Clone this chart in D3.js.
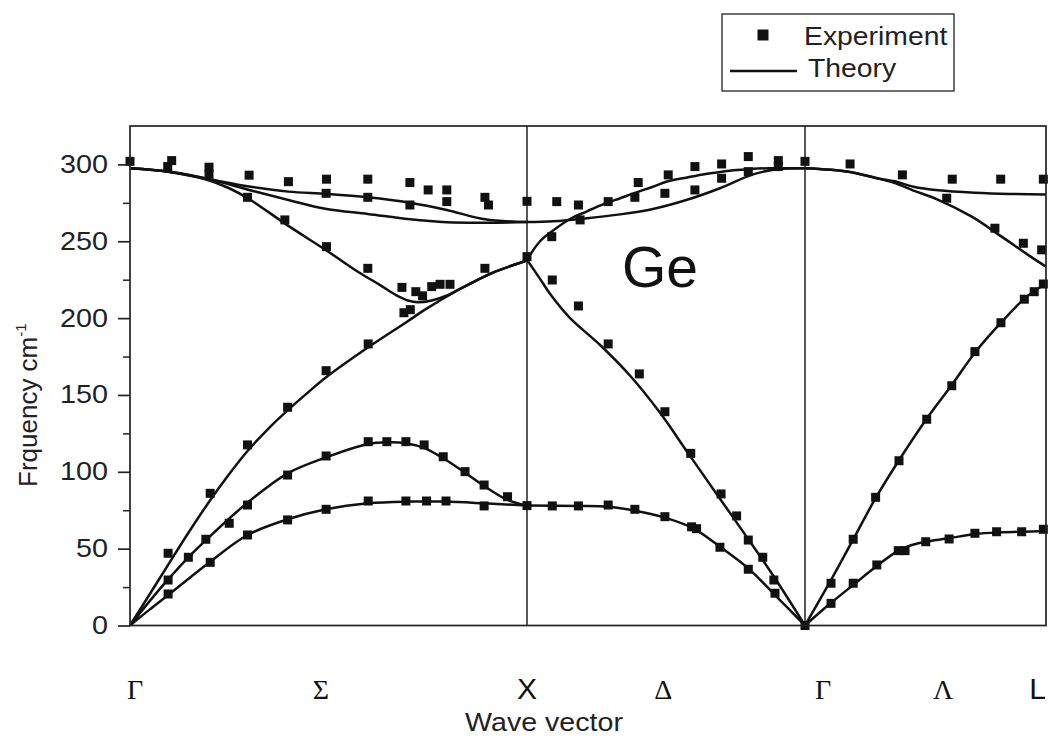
<!DOCTYPE html>
<html>
<head>
<meta charset="utf-8">
<script src="https://cdn.jsdelivr.net/npm/d3@7"></script>
<style>
  body { margin: 0; background: #fff; }
  svg { display: block; }
</style>
</head>
<body>
<svg id="chart" width="1052" height="739"></svg>
<script>
// Wave-vector path coordinate: 0-1 Γ→X (Σ), 1-2 X→Γ (Δ), 2-3 Γ→L (Λ).
// Frequencies in cm^-1.
const pathNodes = [0, 1, 2, 3];
const kLabels = ["Γ", "Σ", "X", "Δ", "Γ", "Λ", "L"];
const kLabelPos = [0.013, 0.481, 1, 1.49, 2.075, 2.573, 2.965];
const kLabelSerif = [true, true, false, true, true, true, false];
const freqTicks = [0, 50, 100, 150, 200, 250, 300];
const freqMinorTicks = [25, 75, 125, 175, 225, 275];

// ---- theory: Σ branch ----
const sigmaTA1 = [[0,0],[0.05,10.5],[0.096,19.8],[0.202,41.5],[0.296,58.9],[0.397,69.1],[0.494,75.6],[0.6,79.5],[0.701,80.6],[0.793,80.6],[0.892,79.5],[1,78]];
const sigmaTA2 = [[0,0],[0.05,16],[0.096,30],[0.147,44.4],[0.202,58.2],[0.296,79.9],[0.397,99],[0.494,109.4],[0.6,118.1],[0.651,119.2],[0.695,118.6],[0.743,115.3],[0.789,108.8],[0.844,99.4],[0.892,90.8],[0.951,81.7],[1,78]];
const sigmaLA = [[0,0],[0.05,20.5],[0.096,39.5],[0.15,61.5],[0.202,81.5],[0.25,98.5],[0.296,113.5],[0.35,128.5],[0.397,140],[0.45,152],[0.494,161.5],[0.6,181],[0.697,197.5],[0.743,205.5],[0.827,218.3],[0.911,229.2],[1,237.5]];
const sigmaLO = [[0,297.5],[0.096,295.3],[0.19,290.4],[0.25,284.5],[0.3,277.5],[0.399,260],[0.495,244],[0.575,230],[0.63,221.5],[0.67,215],[0.7,211.5],[0.725,210.3],[0.76,211.5],[0.8,215],[0.827,218.5],[0.86,222.8],[0.911,229.3],[1,237.5]];
const sigmaTO2 = [[0,297.5],[0.1,295.2],[0.2,290.3],[0.3,283.4],[0.399,276.9],[0.495,271],[0.599,267.8],[0.705,264.3],[0.798,262.4],[0.894,262.1],[1,262.5]];
const sigmaTO1 = [[0,297.5],[0.096,295.3],[0.199,290.4],[0.3,285.6],[0.399,282.3],[0.495,280.8],[0.599,278.6],[0.705,275.1],[0.798,270.4],[0.894,264.3],[1,262.5]];

// ---- theory: Δ branch ----
const deltaTA = [[1,78],[1.185,77.8],[1.292,77.3],[1.388,74.7],[1.496,70.2],[1.598,63.2],[1.694,51.3],[1.796,37.2],[1.898,18.7],[2,0]];
const deltaLA = [[1,238],[1.045,226],[1.09,214],[1.155,200],[1.263,182.5],[1.371,162.5],[1.476,139],[1.58,112],[1.682,85.6],[1.794,56.7],[1.896,29.6],[2,0]];
const deltaLO = [[1,238],[1.047,250],[1.094,257],[1.155,264.5],[1.216,269.5],[1.273,274],[1.335,278],[1.388,281.5],[1.453,285.5],[1.507,289],[1.576,291.5],[1.633,293.5],[1.694,295],[1.755,296.3],[1.813,297.2],[1.874,297.5],[2,297.5]];
const deltaTO = [[1,262.5],[1.094,263],[1.216,265],[1.335,267.5],[1.453,271],[1.576,277],[1.694,284.5],[1.813,293.5],[1.899,296.8],[2,297.5]];

// ---- theory: Λ branch ----
const lambdaTA = [[2,0],[2.097,13.3],[2.2,26.4],[2.298,38.7],[2.387,48.7],[2.44,52.2],[2.498,54.5],[2.595,56.7],[2.705,59.5],[2.802,60.6],[2.899,61],[3,61.5]];
const lambdaLA = [[2,0],[2.104,28.5],[2.2,56],[2.29,82],[2.39,107.5],[2.505,134.5],[2.609,156.5],[2.705,177.5],[2.816,197.5],[2.913,213],[3,222.5]];
const lambdaLO = [[2,297.5],[2.18,295.3],[2.3,291],[2.373,287.8],[2.45,283],[2.553,277],[2.692,266],[2.816,253],[2.927,241],[3,233.5]];
const lambdaTO = [[2,297.5],[2.18,295.3],[2.3,291],[2.373,289],[2.45,285.5],[2.553,283.2],[2.705,281.6],[2.85,280.8],[3,280.5]];

// ---- neutron scattering data ----
const expSigma = [
  [0,302],[0.095,298.6],[0.105,302.5],[0.199,298.2],[0.199,293.6],[0.3,293],[0.296,278.6],
  [0.399,288.8],[0.39,263.9],[0.495,290.4],[0.494,281.2],[0.495,246.5],[0.599,290.4],[0.599,278.6],
  [0.599,232.4],[0.705,288.2],[0.705,273.6],[0.751,283.4],[0.798,283.4],[0.798,275.8],[0.894,278.6],
  [0.903,273.6],[1,276],
  [0.685,220],[0.72,217.2],[0.737,214.5],[0.76,220.5],[0.781,222],[0.806,222],[0.69,203.5],
  [0.706,205.5],[0.894,232.4],[1,240],
  [0.096,47],[0.202,86],[0.296,117.5],[0.397,142],[0.494,165.8],[0.6,183.2],
  [0.096,29.6],[0.147,44.4],[0.191,56.1],[0.25,66.5],[0.296,78.4],[0.397,97.9],[0.494,110.3],
  [0.6,119.6],[0.647,119.6],[0.695,119.6],[0.741,117.5],[0.789,109.8],[0.844,100.1],[0.892,91.4],
  [0.951,83.8],[1,78],
  [0.096,20.5],[0.202,41.1],[0.296,58.9],[0.397,68.7],[0.494,75.6],[0.6,81],[0.695,81],
  [0.747,81],[0.796,81],[0.892,77.8]
];
const expDelta = [
  [1.107,275.8],[1.185,273.6],[1.292,275.8],[1.388,278.6],[1.4,288.2],[1.496,281.2],[1.508,293.2],
  [1.604,283.4],[1.604,298.6],[1.7,291],[1.7,300.3],[1.796,305.1],[1.796,295.3],[1.904,302.5],
  [1.904,298.6],[2,302],
  [1.089,253],[1.191,263.9],
  [1.091,224.8],[1.185,207.9],[1.292,183.2],[1.404,163.7],[1.496,139.1],[1.589,112],[1.698,85.6],
  [1.754,71.3],[1.796,55.6],[1.848,44.4],[1.888,29.6],
  [1.091,77.8],[1.185,77.8],[1.292,78.4],[1.388,75.6],[1.496,70.8],[1.592,64.2],[1.61,63],
  [1.694,50.9],[1.796,36.6],[1.892,21],[2,0]
];
const expLambda = [
  [2.108,14.4],[2.2,27.5],[2.298,39.4],[2.387,48.7],[2.415,48.7],[2.501,54.5],[2.598,56.3],
  [2.705,60],[2.795,61],[2.899,61],[2.989,62.6],
  [2.108,27.5],[2.2,56.1],[2.293,83.4],[2.39,107.2],[2.505,134.2],[2.609,156],[2.705,178.2],
  [2.813,197],[2.91,212.3],[2.951,217.2],[2.989,222.2],
  [2.588,278],[2.788,258.5],[2.906,248.7],[2.982,244.4],
  [2.187,300.3],[2.404,293.2],[2.611,290.4],[2.812,290.4],[2.989,290.4]
];

const theoryBranches = [
  sigmaTA1, sigmaTA2, sigmaLA, sigmaLO, sigmaTO2, sigmaTO1,
  deltaTA, deltaLA, deltaLO, deltaTO,
  lambdaTA, lambdaLA, lambdaLO, lambdaTO
];
const experiment = expSigma.concat(expDelta, expLambda);

// ---- drawing ----
const SANS = "'Liberation Sans', Arial, Helvetica, sans-serif";
const SERIF = "'Liberation Serif', 'Times New Roman', serif";
const INK = "#111";

const svg = d3.select("#chart");
const plot = { left: 130, right: 1046, top: 126, bottom: 625.5 };

const x = d3.scaleLinear().domain(pathNodes).range([plot.left, 527, 805, plot.right]);
const y = d3.scaleLinear().domain([0, 325]).range([plot.bottom, plot.top]);

// dispersion curves
const line = d3.line()
  .x(d => x(d[0]))
  .y(d => y(d[1]))
  .curve(d3.curveCatmullRom.alpha(0.5));

svg.append("g")
  .selectAll("path")
  .data(theoryBranches)
  .join("path")
  .attr("d", line)
  .attr("fill", "none")
  .attr("stroke", INK)
  .attr("stroke-width", 2.5)
  .attr("stroke-linejoin", "round");

// symmetry-point separators
svg.append("g")
  .selectAll("line")
  .data([1, 2])
  .join("line")
  .attr("x1", d => x(d)).attr("x2", d => x(d))
  .attr("y1", plot.top).attr("y2", plot.bottom)
  .attr("stroke", INK)
  .attr("stroke-width", 1.4);

// measured points
const sq = 9;
svg.append("g")
  .selectAll("rect")
  .data(experiment)
  .join("rect")
  .attr("x", d => x(d[0]) - sq / 2)
  .attr("y", d => y(d[1]) - sq / 2)
  .attr("width", sq)
  .attr("height", sq)
  .attr("fill", INK);

// frame
svg.append("rect")
  .attr("x", plot.left).attr("y", plot.top)
  .attr("width", plot.right - plot.left)
  .attr("height", plot.bottom - plot.top)
  .attr("fill", "none")
  .attr("stroke", "#222")
  .attr("stroke-width", 1.7);

// frequency axis
const yAxisG = svg.append("g").attr("transform", `translate(${plot.left},0)`);
yAxisG.call(
  d3.axisLeft(y).tickValues(freqTicks).tickSize(12).tickPadding(10).tickFormat(d3.format("d"))
);
yAxisG.select(".domain").remove();
yAxisG.selectAll(".tick line").attr("stroke", "#222").attr("stroke-width", 1.7);
yAxisG.selectAll(".tick text")
  .attr("fill", "#222")
  .style("font-family", SANS)
  .style("font-size", "25px")
  .attr("transform", function () {
    const tx = +this.getAttribute("x");
    return `translate(${tx},0) scale(1.15,1)`;
  })
  .attr("x", 0);

const yMinorG = svg.append("g").attr("transform", `translate(${plot.left},0)`);
yMinorG.call(d3.axisLeft(y).tickValues(freqMinorTicks).tickSize(7).tickFormat(""));
yMinorG.select(".domain").remove();
yMinorG.selectAll(".tick line").attr("stroke", "#222").attr("stroke-width", 1.5);

// symmetry labels under the axis
svg.append("g")
  .selectAll("text")
  .data(kLabels)
  .join("text")
  .attr("x", (d, i) => x(kLabelPos[i]))
  .attr("y", 699)
  .attr("text-anchor", "middle")
  .attr("fill", "#111")
  .style("font-family", (d, i) => kLabelSerif[i] ? SERIF : SANS)
  .style("font-size", (d, i) => kLabelSerif[i] ? "28px" : "30px")
  .text(d => d);

// axis titles
svg.append("text")
  .attr("transform", "translate(544,731) scale(1.1,1)")
  .attr("text-anchor", "middle")
  .attr("fill", "#222")
  .style("font-family", SANS)
  .style("font-size", "26px")
  .text("Wave vector");

const yTitle = svg.append("text")
  .attr("transform", "translate(37,487) rotate(-90)")
  .attr("text-anchor", "start")
  .attr("fill", "#222")
  .style("font-family", SANS)
  .style("font-size", "26px");
yTitle.append("tspan").text("Frquency cm");
yTitle.append("tspan").attr("dy", -11).style("font-size", "15px").text("-1");

// material label
svg.append("text")
  .attr("x", 622)
  .attr("y", 287)
  .attr("fill", "#111")
  .style("font-family", SANS)
  .style("font-size", "57px")
  .text("Ge");

// legend
const legend = svg.append("g");
legend.append("rect")
  .attr("x", 722).attr("y", 14)
  .attr("width", 232).attr("height", 77)
  .attr("fill", "#fff")
  .attr("stroke", "#333")
  .attr("stroke-width", 1.4);
legend.append("rect")
  .attr("x", 763 - 5.5).attr("y", 35 - 5.5)
  .attr("width", 11).attr("height", 11)
  .attr("fill", INK);
legend.append("line")
  .attr("x1", 730).attr("x2", 797)
  .attr("y1", 71).attr("y2", 71)
  .attr("stroke", INK)
  .attr("stroke-width", 2.3);
legend.append("text")
  .attr("transform", "translate(804,45) scale(1.09,1)")
  .attr("fill", "#222")
  .style("font-family", SANS)
  .style("font-size", "26px")
  .text("Experiment");
legend.append("text")
  .attr("transform", "translate(808,77) scale(1.09,1)")
  .attr("fill", "#222")
  .style("font-family", SANS)
  .style("font-size", "26px")
  .text("Theory");
</script>
</body>
</html>
